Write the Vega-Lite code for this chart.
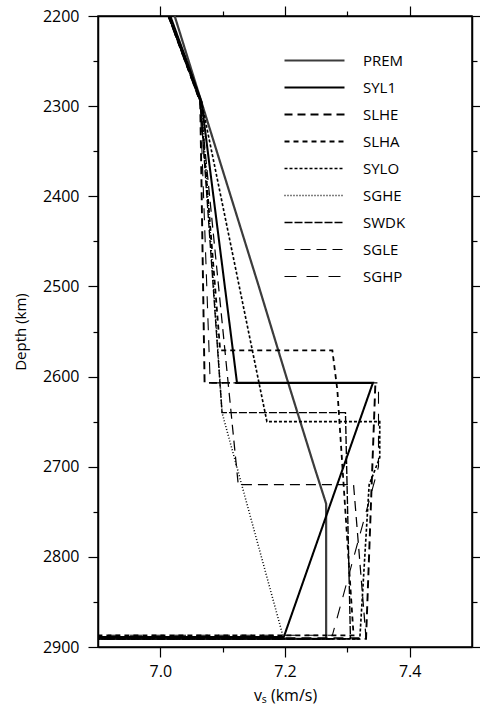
{
  "$schema": "https://vega.github.io/schema/vega-lite/v6.json",
  "autosize": "none",
  "width": 374,
  "height": 631,
  "padding": {"left": 98, "top": 16, "right": 8, "bottom": 70},
  "background": "white",
  "config": {
    "font": "Open Sans",
    "view": {"stroke": "black", "strokeWidth": 1.5},
    "axis": {"grid": false, "domainColor": "black", "domainWidth": 1.5, "tickColor": "black", "tickWidth": 1.2, "labelColor": "black", "titleColor": "black", "labelFontSize": 15, "titleFontSize": 15, "titleFontWeight": "normal"}
  },
  "data": {"values": [
    {"model": "PREM", "i": 0, "vs": 7.023, "depth": 2200},
    {"model": "PREM", "i": 1, "vs": 7.068, "depth": 2300},
    {"model": "PREM", "i": 2, "vs": 7.113, "depth": 2400},
    {"model": "PREM", "i": 3, "vs": 7.158, "depth": 2500},
    {"model": "PREM", "i": 4, "vs": 7.202, "depth": 2600},
    {"model": "PREM", "i": 5, "vs": 7.247, "depth": 2700},
    {"model": "PREM", "i": 6, "vs": 7.266, "depth": 2741},
    {"model": "PREM", "i": 7, "vs": 7.266, "depth": 2891},
    {"model": "PREM", "i": 8, "vs": 6.9, "depth": 2891},
    {"model": "SYL1", "i": 0, "vs": 7.016, "depth": 2200},
    {"model": "SYL1", "i": 1, "vs": 7.066, "depth": 2295},
    {"model": "SYL1", "i": 2, "vs": 7.123, "depth": 2607},
    {"model": "SYL1", "i": 3, "vs": 7.341, "depth": 2607},
    {"model": "SYL1", "i": 4, "vs": 7.198, "depth": 2889},
    {"model": "SYL1", "i": 5, "vs": 6.9, "depth": 2889},
    {"model": "SLHE", "i": 0, "vs": 7.013, "depth": 2200},
    {"model": "SLHE", "i": 1, "vs": 7.064, "depth": 2295},
    {"model": "SLHE", "i": 2, "vs": 7.071, "depth": 2607},
    {"model": "SLHE", "i": 3, "vs": 7.345, "depth": 2607},
    {"model": "SLHE", "i": 4, "vs": 7.33, "depth": 2891},
    {"model": "SLHE", "i": 5, "vs": 6.9, "depth": 2891},
    {"model": "SLHA", "i": 0, "vs": 7.013, "depth": 2200},
    {"model": "SLHA", "i": 1, "vs": 7.064, "depth": 2295},
    {"model": "SLHA", "i": 2, "vs": 7.096, "depth": 2571},
    {"model": "SLHA", "i": 3, "vs": 7.276, "depth": 2571},
    {"model": "SLHA", "i": 4, "vs": 7.284, "depth": 2615},
    {"model": "SLHA", "i": 5, "vs": 7.31, "depth": 2887},
    {"model": "SLHA", "i": 6, "vs": 6.9, "depth": 2887},
    {"model": "SYLO", "i": 0, "vs": 7.015, "depth": 2200},
    {"model": "SYLO", "i": 1, "vs": 7.066, "depth": 2295},
    {"model": "SYLO", "i": 2, "vs": 7.171, "depth": 2650},
    {"model": "SYLO", "i": 3, "vs": 7.352, "depth": 2650},
    {"model": "SYLO", "i": 4, "vs": 7.352, "depth": 2690},
    {"model": "SYLO", "i": 5, "vs": 7.335, "depth": 2720},
    {"model": "SYLO", "i": 6, "vs": 7.32, "depth": 2891},
    {"model": "SYLO", "i": 7, "vs": 6.9, "depth": 2891},
    {"model": "SGHE", "i": 0, "vs": 7.015, "depth": 2200},
    {"model": "SGHE", "i": 1, "vs": 7.066, "depth": 2295},
    {"model": "SGHE", "i": 2, "vs": 7.099, "depth": 2640},
    {"model": "SGHE", "i": 3, "vs": 7.198, "depth": 2891},
    {"model": "SGHE", "i": 4, "vs": 6.9, "depth": 2891},
    {"model": "SWDK", "i": 0, "vs": 7.013, "depth": 2200},
    {"model": "SWDK", "i": 1, "vs": 7.064, "depth": 2295},
    {"model": "SWDK", "i": 2, "vs": 7.099, "depth": 2640},
    {"model": "SWDK", "i": 3, "vs": 7.297, "depth": 2640},
    {"model": "SWDK", "i": 4, "vs": 7.305, "depth": 2891},
    {"model": "SWDK", "i": 5, "vs": 6.9, "depth": 2891},
    {"model": "SGLE", "i": 0, "vs": 7.013, "depth": 2200},
    {"model": "SGLE", "i": 1, "vs": 7.064, "depth": 2295},
    {"model": "SGLE", "i": 2, "vs": 7.125, "depth": 2720},
    {"model": "SGLE", "i": 3, "vs": 7.31, "depth": 2720},
    {"model": "SGLE", "i": 4, "vs": 7.33, "depth": 2890},
    {"model": "SGLE", "i": 5, "vs": 6.9, "depth": 2890},
    {"model": "SGHP", "i": 0, "vs": 7.013, "depth": 2200},
    {"model": "SGHP", "i": 1, "vs": 7.064, "depth": 2295},
    {"model": "SGHP", "i": 2, "vs": 7.08, "depth": 2607},
    {"model": "SGHP", "i": 3, "vs": 7.35, "depth": 2607},
    {"model": "SGHP", "i": 4, "vs": 7.35, "depth": 2700},
    {"model": "SGHP", "i": 5, "vs": 7.276, "depth": 2887},
    {"model": "SGHP", "i": 6, "vs": 6.9, "depth": 2887}
  ]},
  "layer": [
    {
      "mark": {"type": "line", "clip": true},
      "encoding": {
        "x": {"field": "vs", "type": "quantitative", "scale": {"domain": [6.9, 7.5], "nice": false, "zero": false},
          "axis": {"orient": "bottom", "title": "vₛ (km/s)", "values": [7.0, 7.1, 7.2, 7.3, 7.4],
            "labelExpr": "round(datum.value*10) % 2 == 0 ? format(datum.value, '.1f') : ''",
            "tickSize": {"condition": {"test": "round(datum.value*10) % 2 == 1", "value": 5}, "value": 10},
            "labelFontSize": 16, "titleFontSize": 16, "labelPadding": 6, "titlePadding": 8}},
        "y": {"field": "depth", "type": "quantitative", "scale": {"domain": [2200, 2900], "reverse": true, "nice": false, "zero": false},
          "axis": {"orient": "left", "title": "Depth (km)", "format": "d", "values": [2200, 2250, 2300, 2350, 2400, 2450, 2500, 2550, 2600, 2650, 2700, 2750, 2800, 2850, 2900],
            "labelExpr": "datum.value % 100 == 0 ? datum.label : ''",
            "tickSize": {"condition": {"test": "datum.value % 100 != 0", "value": 5}, "value": 10},
            "labelFontSize": 16, "labelPadding": 9, "titlePadding": 14}},
        "detail": {"field": "model"},
        "order": {"field": "i", "type": "quantitative"},
        "strokeDash": {"field": "model", "type": "nominal",
          "scale": {"domain": ["PREM", "SYL1", "SLHE", "SLHA", "SYLO", "SGHE", "SWDK", "SGLE", "SGHP"],
            "range": [[1, 0], [1, 0], [8, 5], [5, 4], [3, 2], [1, 2], [8, 2], [10, 6], [12, 10]]},
          "legend": {"title": null, "orient": "none", "legendX": 185, "legendY": 31, "symbolType": "stroke", "symbolSize": 3600, "clipHeight": 27, "rowPadding": 0, "labelFontSize": 15, "labelOffset": 17, "labelColor": "black"}},
        "strokeWidth": {"field": "model", "type": "nominal",
          "scale": {"domain": ["PREM", "SYL1", "SLHE", "SLHA", "SYLO", "SGHE", "SWDK", "SGLE", "SGHP"],
            "range": [2.2, 1.1, 1.1, 1.1, 1.1, 1.1, 1.1, 1.1, 1.1]}},
        "color": {"field": "model", "type": "nominal",
          "scale": {"domain": ["PREM", "SYL1", "SLHE", "SLHA", "SYLO", "SGHE", "SWDK", "SGLE", "SGHP"],
            "range": ["#3c3c3c", "#000000", "#000000", "#000000", "#000000", "#000000", "#000000", "#000000", "#000000"]}}
      }
    },
    {
      "mark": {"type": "line", "opacity": 0},
      "encoding": {
        "x": {"field": "vs", "type": "quantitative", "scale": {"domain": [6.9, 7.5], "nice": false, "zero": false},
          "axis": {"orient": "top", "title": null, "values": [7.0, 7.1, 7.2, 7.3, 7.4], "labels": false,
            "tickSize": {"condition": {"test": "round(datum.value*10) % 2 == 1", "value": 5}, "value": 10}}},
        "y": {"field": "depth", "type": "quantitative", "scale": {"domain": [2200, 2900], "reverse": true, "nice": false, "zero": false},
          "axis": {"orient": "right", "title": null, "values": [2200, 2250, 2300, 2350, 2400, 2450, 2500, 2550, 2600, 2650, 2700, 2750, 2800, 2850, 2900], "labels": false,
            "tickSize": {"condition": {"test": "datum.value % 100 != 0", "value": 5}, "value": 9}}},
        "detail": {"field": "model"},
        "order": {"field": "i", "type": "quantitative"}
      }
    }
  ],
  "resolve": {"axis": {"x": "independent", "y": "independent"}}
}
